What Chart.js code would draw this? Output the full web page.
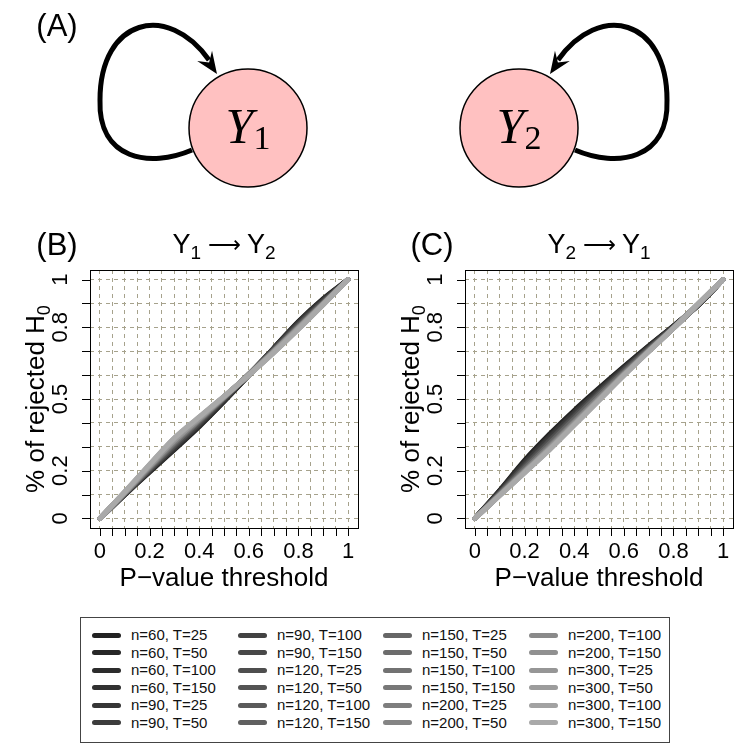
<!DOCTYPE html>
<html>
<head>
<meta charset="utf-8">
<script src="https://cdn.jsdelivr.net/npm/chart.js@4.4.1/dist/chart.umd.min.js"></script>
<style>
  body { margin: 0; background: #fff; width: 740px; height: 751px; position: relative; overflow: hidden;
         font-family: "Liberation Sans", Arial, sans-serif; }
  canvas { position: absolute; }
  #diagram { left: 0; top: 0; }
  #chartB { left: 0; top: 220px; }
  #chartC { left: 375px; top: 220px; }
  #legend { position: absolute; left: 80px; top: 617px; width: 588px; height: 124px; border: 1px solid #444; }
  .item { position: absolute; height: 18px; line-height: 18px; font-size: 15px; color: #111; white-space: nowrap; }
  .item i { position: absolute; left: 0; top: 6.5px; width: 29px; height: 5px; border-radius: 3px; }
  .item span { position: absolute; left: 39px; top: 0; }
</style>
</head>
<body>
<canvas id="diagram" width="740" height="220"></canvas>
<canvas id="chartB" width="370" height="390"></canvas>
<canvas id="chartC" width="370" height="390"></canvas>
<div id="legend"></div>
<script>
// p-value thresholds at which the rejection rate was read
const thresholds = [0, 0.1, 0.2, 0.3, 0.4, 0.5, 0.6, 0.7, 0.8, 0.9, 1];

// axis ticks (grid) and the ones that carry a label
const xGrid = [0, 0.05, 0.1, 0.15, 0.2, 0.25, 0.3, 0.35, 0.4, 0.45, 0.5, 0.55, 0.6, 0.65, 0.7, 0.75, 0.8, 0.85, 0.9, 0.95, 1];
const xLabelled = [0, 0.2, 0.4, 0.6, 0.8, 1];
const yGrid = [0, 0.1, 0.2, 0.3, 0.4, 0.5, 0.6, 0.7, 0.8, 0.9, 1];
const yLabelled = [0, 0.2, 0.5, 0.8, 1];

const seriesNames = [
  'n=60, T=25', 'n=60, T=50', 'n=60, T=100', 'n=60, T=150',
  'n=90, T=25', 'n=90, T=50', 'n=90, T=100', 'n=90, T=150',
  'n=120, T=25', 'n=120, T=50', 'n=120, T=100', 'n=120, T=150',
  'n=150, T=25', 'n=150, T=50', 'n=150, T=100', 'n=150, T=150',
  'n=200, T=25', 'n=200, T=50', 'n=200, T=100', 'n=200, T=150',
  'n=300, T=25', 'n=300, T=50', 'n=300, T=100', 'n=300, T=150'
];

// (B) Y1 -> Y2 : share of rejected H0, one row per series
const rejectedB = [
  [0, 0.098, 0.194, 0.288, 0.384, 0.489, 0.599, 0.712, 0.824, 0.920, 1],
  [0, 0.101, 0.197, 0.291, 0.387, 0.491, 0.600, 0.712, 0.822, 0.917, 1],
  [0, 0.100, 0.199, 0.294, 0.390, 0.493, 0.601, 0.710, 0.820, 0.914, 1],
  [0, 0.102, 0.201, 0.297, 0.393, 0.494, 0.599, 0.708, 0.817, 0.912, 1],
  [0, 0.099, 0.198, 0.293, 0.391, 0.495, 0.602, 0.712, 0.821, 0.915, 1],
  [0, 0.103, 0.203, 0.300, 0.395, 0.497, 0.602, 0.709, 0.816, 0.910, 1],
  [0, 0.101, 0.202, 0.302, 0.398, 0.499, 0.600, 0.706, 0.812, 0.908, 1],
  [0, 0.104, 0.206, 0.306, 0.401, 0.500, 0.601, 0.704, 0.809, 0.906, 1],
  [0, 0.102, 0.204, 0.305, 0.401, 0.502, 0.604, 0.708, 0.812, 0.908, 1],
  [0, 0.105, 0.209, 0.311, 0.405, 0.503, 0.602, 0.703, 0.806, 0.904, 1],
  [0, 0.104, 0.210, 0.314, 0.408, 0.505, 0.603, 0.702, 0.803, 0.902, 1],
  [0, 0.106, 0.213, 0.318, 0.411, 0.506, 0.602, 0.700, 0.801, 0.901, 1],
  [0, 0.103, 0.208, 0.312, 0.407, 0.504, 0.603, 0.704, 0.805, 0.903, 1],
  [0, 0.106, 0.214, 0.320, 0.413, 0.507, 0.603, 0.701, 0.800, 0.900, 1],
  [0, 0.107, 0.216, 0.323, 0.415, 0.508, 0.602, 0.699, 0.798, 0.899, 1],
  [0, 0.108, 0.218, 0.326, 0.417, 0.508, 0.601, 0.697, 0.796, 0.898, 1],
  [0, 0.105, 0.213, 0.319, 0.412, 0.506, 0.602, 0.701, 0.801, 0.901, 1],
  [0, 0.108, 0.219, 0.327, 0.418, 0.509, 0.602, 0.698, 0.797, 0.898, 1],
  [0, 0.109, 0.221, 0.330, 0.420, 0.509, 0.601, 0.696, 0.795, 0.897, 1],
  [0, 0.110, 0.222, 0.332, 0.421, 0.510, 0.601, 0.695, 0.794, 0.896, 1],
  [0, 0.107, 0.218, 0.326, 0.417, 0.508, 0.602, 0.699, 0.798, 0.899, 1],
  [0, 0.110, 0.223, 0.333, 0.422, 0.510, 0.601, 0.696, 0.795, 0.897, 1],
  [0, 0.111, 0.225, 0.336, 0.424, 0.511, 0.600, 0.694, 0.793, 0.896, 1],
  [0, 0.112, 0.226, 0.337, 0.425, 0.511, 0.600, 0.693, 0.792, 0.895, 1]
];

// (C) Y2 -> Y1
const rejectedC = [
  [0, 0.118, 0.243, 0.352, 0.452, 0.545, 0.635, 0.722, 0.806, 0.893, 1],
  [0, 0.116, 0.238, 0.347, 0.447, 0.541, 0.632, 0.720, 0.805, 0.893, 1],
  [0, 0.114, 0.234, 0.342, 0.443, 0.538, 0.629, 0.718, 0.804, 0.894, 1],
  [0, 0.112, 0.230, 0.337, 0.439, 0.535, 0.627, 0.716, 0.803, 0.894, 1],
  [0, 0.113, 0.232, 0.340, 0.441, 0.536, 0.628, 0.717, 0.804, 0.893, 1],
  [0, 0.110, 0.225, 0.332, 0.434, 0.531, 0.624, 0.714, 0.802, 0.894, 1],
  [0, 0.108, 0.220, 0.326, 0.429, 0.527, 0.621, 0.712, 0.801, 0.895, 1],
  [0, 0.106, 0.216, 0.321, 0.424, 0.523, 0.618, 0.710, 0.800, 0.895, 1],
  [0, 0.108, 0.219, 0.324, 0.427, 0.525, 0.620, 0.711, 0.801, 0.895, 1],
  [0, 0.105, 0.212, 0.316, 0.419, 0.519, 0.615, 0.708, 0.799, 0.896, 1],
  [0, 0.103, 0.208, 0.311, 0.414, 0.515, 0.612, 0.706, 0.798, 0.896, 1],
  [0, 0.102, 0.205, 0.307, 0.410, 0.512, 0.610, 0.705, 0.798, 0.897, 1],
  [0, 0.104, 0.210, 0.313, 0.416, 0.517, 0.613, 0.707, 0.799, 0.896, 1],
  [0, 0.101, 0.203, 0.304, 0.407, 0.509, 0.608, 0.704, 0.797, 0.897, 1],
  [0, 0.100, 0.200, 0.300, 0.403, 0.506, 0.606, 0.703, 0.797, 0.898, 1],
  [0, 0.099, 0.198, 0.297, 0.400, 0.503, 0.604, 0.702, 0.797, 0.898, 1],
  [0, 0.101, 0.202, 0.302, 0.405, 0.507, 0.607, 0.703, 0.797, 0.897, 1],
  [0, 0.099, 0.197, 0.296, 0.399, 0.502, 0.603, 0.701, 0.796, 0.898, 1],
  [0, 0.098, 0.195, 0.293, 0.396, 0.500, 0.602, 0.700, 0.796, 0.898, 1],
  [0, 0.097, 0.194, 0.291, 0.394, 0.498, 0.601, 0.700, 0.796, 0.899, 1],
  [0, 0.098, 0.196, 0.294, 0.397, 0.500, 0.602, 0.700, 0.796, 0.898, 1],
  [0, 0.097, 0.193, 0.290, 0.393, 0.497, 0.600, 0.699, 0.796, 0.899, 1],
  [0, 0.096, 0.192, 0.288, 0.391, 0.495, 0.599, 0.699, 0.796, 0.899, 1],
  [0, 0.096, 0.191, 0.287, 0.390, 0.494, 0.598, 0.698, 0.796, 0.899, 1]
];

const greys = [
  '#222222', '#272727', '#2c2c2c', '#313131', '#363636', '#3c3c3c', '#424242', '#484848',
  '#4e4e4e', '#545454', '#5a5a5a', '#606060', '#666666', '#6c6c6c', '#727272', '#787878',
  '#7e7e7e', '#848484', '#8a8a8a', '#909090', '#969696', '#9c9c9c', '#a2a2a2', '#a9a9a9'
];

const FONT = '"Liberation Sans", Arial, sans-serif';

// draws text pieces side by side (used for subscripts)
function richText(ctx, parts, x, y) {
  const widths = parts.map(p => { ctx.font = p.font; return ctx.measureText(p.text).width; });
  const total = widths.reduce((s, w) => s + w, 0);
  let cx = x - total / 2;
  ctx.textAlign = 'left';
  ctx.textBaseline = 'alphabetic';
  parts.forEach((p, i) => {
    ctx.font = p.font;
    ctx.fillText(p.text, cx, y + (p.dy || 0));
    cx += widths[i];
  });
}

const frame = {
  id: 'frame',
  afterDraw(chart, args, opts) {
    const { ctx, chartArea: a, scales: { x, y } } = chart;
    ctx.save();
    ctx.strokeStyle = '#000';
    ctx.lineWidth = 1;
    ctx.setLineDash([]);
    ctx.strokeRect(a.left + 0.5, a.top + 0.5, a.right - a.left, a.bottom - a.top);
    ctx.beginPath();
    x.ticks.forEach(t => {
      const px = Math.round(x.getPixelForValue(t.value)) + 0.5;
      ctx.moveTo(px, a.bottom);
      ctx.lineTo(px, a.bottom + 8);
    });
    y.ticks.forEach(t => {
      const py = Math.round(y.getPixelForValue(t.value)) + 0.5;
      ctx.moveTo(a.left, py);
      ctx.lineTo(a.left - 8, py);
    });
    ctx.stroke();

    ctx.fillStyle = '#000';
    const mid = (a.left + a.right) / 2;
    ctx.font = '31px ' + FONT;
    ctx.textAlign = 'center';
    ctx.fillText(opts.letter, a.left - 33, 35);
    richText(ctx, [
      { text: 'Y', font: '27px ' + FONT },
      { text: opts.from, font: '19px ' + FONT, dy: 6 },
      { text: ' \u27F6 ', font: '23px ' + FONT, dy: -1 },
      { text: 'Y', font: '27px ' + FONT },
      { text: opts.to, font: '19px ' + FONT, dy: 6 }
    ], mid, 33);
    richText(ctx, [{ text: 'P\u2212value threshold', font: '26px ' + FONT }], mid, 366);

    ctx.translate(a.left - 46, (a.top + a.bottom) / 2);
    ctx.rotate(-Math.PI / 2);
    richText(ctx, [
      { text: '% of rejected H', font: '26px ' + FONT },
      { text: '0', font: '18px ' + FONT, dy: 6 }
    ], 0, 0);
    ctx.restore();
  }
};

function makePanel(id, rows, letter, from, to) {
  const datasets = rows.map((vals, i) => ({
    label: seriesNames[i],
    data: thresholds.map((t, k) => ({ x: t, y: vals[k] })),
    borderColor: greys[i],
    borderWidth: 5,
    borderCapStyle: 'round',
    borderJoinStyle: 'round',
    pointRadius: 0,
    tension: 0.3,
    order: rows.length - i
  }));
  const tickFont = { family: FONT, size: 22 };
  return new Chart(document.getElementById(id), {
    type: 'line',
    data: { datasets },
    options: {
      responsive: false,
      animation: false,
      devicePixelRatio: 1,
      layout: { padding: { left: 0, top: 50, right: 12, bottom: 0 } },
      plugins: { legend: { display: false }, tooltip: { enabled: false }, frame: { letter, from, to } },
      scales: {
        x: {
          type: 'linear', min: -0.04, max: 1.04,
          afterBuildTicks: s => { s.ticks = xGrid.map(v => ({ value: v })); },
          afterFit: s => { s.height = 82; },
          grid: { color: '#a6a28c', lineWidth: 1, drawTicks: false },
          border: { display: false, dash: [4, 4] },
          ticks: {
            autoSkip: false, maxRotation: 0, padding: 11, color: '#000', font: tickFont,
            callback: v => xLabelled.includes(v) ? String(v) : ''
          }
        },
        y: {
          type: 'linear', min: -0.04, max: 1.04,
          afterBuildTicks: s => { s.ticks = yGrid.map(v => ({ value: v })); },
          afterFit: s => { s.width = 90; },
          grid: { color: '#a6a28c', lineWidth: 1, drawTicks: false },
          border: { display: false, dash: [4, 4] },
          ticks: {
            autoSkip: false, minRotation: 90, maxRotation: 90, crossAlign: 'center', padding: 14,
            color: '#000', font: tickFont,
            callback: v => yLabelled.includes(v) ? String(v) : ''
          }
        }
      }
    },
    plugins: [frame]
  });
}

makePanel('chartB', rejectedB, '(B)', '1', '2');
makePanel('chartC', rejectedC, '(C)', '2', '1');

// (A) two nodes, each with a self loop
function arrowHead(ctx, tx, ty, dx, dy) {
  const nx = -dy, ny = dx;
  ctx.beginPath();
  ctx.moveTo(tx, ty);
  ctx.lineTo(tx - dx * 22 + nx * 9, ty - dy * 22 + ny * 9);
  ctx.lineTo(tx - dx * 14, ty - dy * 14);
  ctx.lineTo(tx - dx * 22 - nx * 9, ty - dy * 22 - ny * 9);
  ctx.closePath();
  ctx.fill();
}

function drawLoop(ctx) {
  ctx.lineWidth = 5;
  ctx.lineCap = 'butt';
  ctx.beginPath();
  ctx.moveTo(192, 150);
  ctx.bezierCurveTo(150, 168, 98, 160, 100, 100);
  ctx.bezierCurveTo(100, 18, 168, 2, 209, 60);
  ctx.stroke();
  const len = Math.hypot(217 - 172, 74 - 8);
  arrowHead(ctx, 217, 74, (217 - 172) / len, (74 - 8) / len);
}

function drawNode(ctx, cx, cy, sub) {
  ctx.beginPath();
  ctx.arc(cx, cy, 59, 0, Math.PI * 2);
  ctx.fillStyle = '#ffc1c1';
  ctx.fill();
  ctx.lineWidth = 1.5;
  ctx.strokeStyle = '#000';
  ctx.stroke();
  ctx.fillStyle = '#000';
  richText(ctx, [
    { text: 'Y', font: 'italic 50px "Liberation Serif", serif' },
    { text: sub, font: '34px "Liberation Serif", serif', dy: 6 }
  ], cx, cy + 15);
}

const diagram = {
  id: 'diagram',
  afterDraw(chart) {
    const ctx = chart.ctx;
    ctx.save();
    ctx.fillStyle = '#000';
    ctx.strokeStyle = '#000';
    ctx.font = '31px ' + FONT;
    ctx.textAlign = 'center';
    ctx.fillText('(A)', 57, 36);
    drawLoop(ctx);
    ctx.save();
    ctx.translate(767, 0);
    ctx.scale(-1, 1);
    drawLoop(ctx);
    ctx.restore();
    drawNode(ctx, 248, 128, '1');
    drawNode(ctx, 519, 128, '2');
    ctx.restore();
  }
};

new Chart(document.getElementById('diagram'), {
  type: 'scatter',
  data: { datasets: [] },
  options: {
    responsive: false,
    animation: false,
    devicePixelRatio: 1,
    plugins: { legend: { display: false }, tooltip: { enabled: false } },
    scales: { x: { display: false }, y: { display: false } }
  },
  plugins: [diagram]
});

// legend: 4 columns of 6, filled column by column
const legendBox = document.getElementById('legend');
const colLeft = [11, 157, 302, 448];
seriesNames.forEach((name, k) => {
  const item = document.createElement('div');
  item.className = 'item';
  item.style.left = colLeft[Math.floor(k / 6)] + 'px';
  item.style.top = (8 + 17.5 * (k % 6)) + 'px';
  item.innerHTML = '<i style="background:' + greys[k] + '"></i><span>' + name + '</span>';
  legendBox.appendChild(item);
});
</script>
</body>
</html>
